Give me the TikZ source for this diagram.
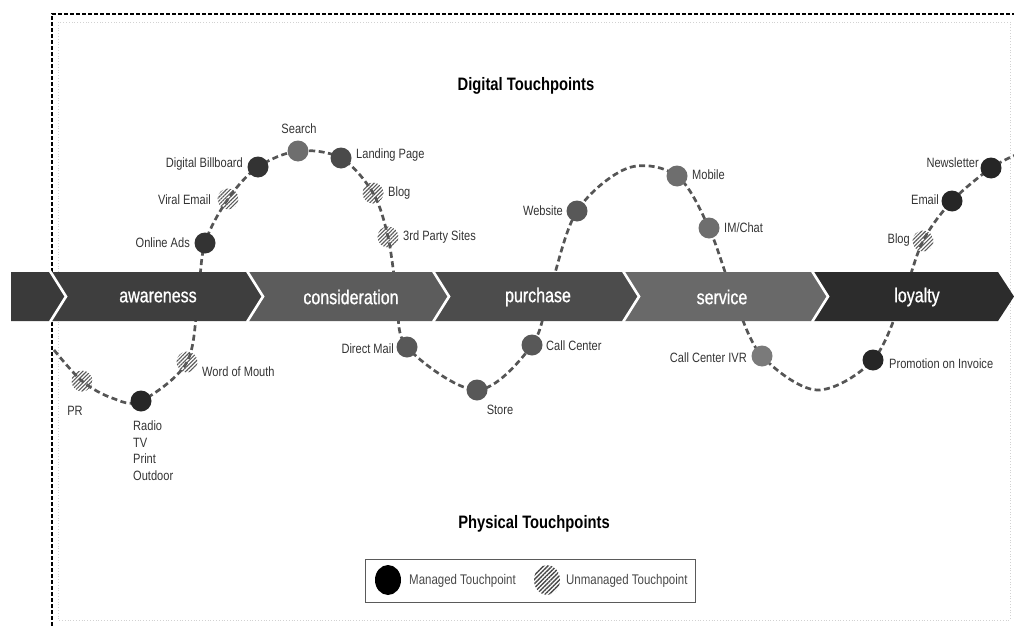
\documentclass[tikz,border=0pt]{standalone}
\usepackage{fontspec}
\setmainfont{Liberation Sans}[FakeStretch=0.82]
\newfontfamily\bandfont{Liberation Sans}[FakeStretch=0.8, FakeBold=0.9]
\usetikzlibrary{patterns.meta,shapes.geometric}
\pgfdeclarelayer{curvelayer}
\pgfdeclarelayer{bandlayer}
\pgfsetlayers{curvelayer,bandlayer,main}
\definecolor{segZ}{HTML}{3A3A3A}
\definecolor{segA}{HTML}{3E3E3E}
\definecolor{segB}{HTML}{5C5C5C}
\definecolor{segC}{HTML}{4C4C4C}
\definecolor{segD}{HTML}{696969}
\definecolor{segE}{HTML}{2C2C2C}
\definecolor{labc}{HTML}{333333}
\definecolor{curvec}{HTML}{555555}
\definecolor{hatch}{HTML}{5A5A5A}
\definecolor{mBlack}{HTML}{262626}
\definecolor{mDark}{HTML}{333333}
\definecolor{mMid}{HTML}{4A4A4A}
\definecolor{mGray}{HTML}{585858}
\definecolor{mLight}{HTML}{6E6E6E}
\definecolor{mLighter}{HTML}{7A7A7A}
\tikzset{
  tp/.style={circle, minimum size=21pt, inner sep=0pt},
  managed/.style={tp, fill=#1},
  unmanaged/.style={tp, pattern={Lines[angle=45,distance=2.7pt,line width=1.1pt]}, pattern color=hatch},
  lab/.style={font=\fontsize{13.5}{15}\selectfont, text=labc, inner sep=0pt},
  bandtext/.style={font=\bandfont\fontsize{20}{24}\selectfont, text=white, inner sep=0pt},
  title/.style={font=\bfseries\fontsize{18}{21}\selectfont, text=black, inner sep=0pt},
  curve/.style={draw=curvec, line width=2.7pt, dash pattern=on 6pt off 3.5pt},
  sep/.style={draw=white, line width=2.6pt},
}
\begin{document}
\begin{tikzpicture}[x=1pt,y=-1pt]
\useasboundingbox (0,0) rectangle (1014,626);

% titles
\node[title] (dig) at (526,86) {Digital Touchpoints};
\node[title] (phy) at (534,524) {Physical Touchpoints};

% touchpoints
\node[unmanaged] (PR) at (82,381) {};
\node[managed=mBlack] (Radio) at (141,401) {};
\node[unmanaged] (WoM) at (187,362) {};
\node[managed=mDark] (Ads) at (205,243) {};
\node[unmanaged] (Viral) at (228,199) {};
\node[managed=mDark] (Bill) at (258,167) {};
\node[managed=mLight] (Search) at (298,151) {};
\node[managed=mMid] (Landing) at (341,158) {};
\node[unmanaged] (BlogA) at (373,193) {};
\node[unmanaged] (Party) at (388,237) {};
\node[managed=mGray] (Mail) at (407,347) {};
\node[managed=mGray] (Store) at (477,390) {};
\node[managed=mGray] (Call) at (532,345) {};
\node[managed=mGray] (Web) at (577,211) {};
\node[managed=mLight] (Mobile) at (677,176) {};
\node[managed=mLight] (Chat) at (709,228) {};
\node[managed=mLighter] (IVR) at (762,356) {};
\node[managed=mBlack] (Promo) at (873,360) {};
\node[unmanaged] (BlogB) at (923,241) {};
\node[managed=mBlack] (Email) at (952,201) {};
\node[managed=mBlack] (News) at (991,168) {};

% labels
\node[lab] (lPR) at (75,411) {PR};
\node[lab, anchor=north west, align=left, font=\fontsize{13.5}{16.5}\selectfont] (lRadio) at (133,421) {Radio\\TV\\Print\\Outdoor};
\node[lab, anchor=west] (lWoM) at (202,372) {Word of Mouth};
\node[lab, anchor=east] (lAds) at (190,243) {Online Ads};
\node[lab, anchor=east] (lViral) at (211,200) {Viral Email};
\node[lab, anchor=east] (lBill) at (243,164) {Digital Billboard};
\node[lab] (lSearch) at (299,129) {Search};
\node[lab, anchor=west] (lLanding) at (356,155) {Landing Page};
\node[lab, anchor=west] (lBlogA) at (388,193) {Blog};
\node[lab, anchor=west] (lParty) at (403,237) {3rd Party Sites};
\node[lab, anchor=east] (lMail) at (394,349) {Direct Mail};
\node[lab] (lStore) at (500,410) {Store};
\node[lab, anchor=west] (lCall) at (546,346) {Call Center};
\node[lab, anchor=east] (lWeb) at (563,211) {Website};
\node[lab, anchor=west] (lMobile) at (692,175) {Mobile};
\node[lab, anchor=west] (lChat) at (724,228) {IM/Chat};
\node[lab, anchor=east] (lIVR) at (747,358) {Call Center IVR};
\node[lab, anchor=west] (lPromo) at (889,364) {Promotion on Invoice};
\node[lab, anchor=east] (lBlogB) at (910,240) {Blog};
\node[lab, anchor=east] (lEmail) at (939,200) {Email};
\node[lab, anchor=east] (lNews) at (979,163) {Newsletter};

% helper points of the wave
\coordinate (w0) at (54,350);
\coordinate (w1) at (112,398);
\coordinate (w2) at (198,296);
\coordinate (w3) at (397,296);
\coordinate (w4) at (550,290);
\coordinate (w5) at (628,168);
\coordinate (w6) at (735,300);
\coordinate (w7) at (817,390);
\coordinate (w8) at (903,296);
\coordinate (w9) at (1018,154);

\begin{pgfonlayer}{curvelayer}
% frame
\draw[gray!35, line width=0.8pt, dotted] (58,22) rectangle (1010,620);
\draw[black, line width=1.5pt, dash pattern=on 4pt off 2pt] (52,626) -- (52,14) -- (1014,14);
\draw[curve] plot[smooth, tension=0.55] coordinates {(w0) (PR.center) (w1) (Radio.center) (WoM.center) (w2) (Ads.center) (Viral.center) (Bill.center) (Search.center) (Landing.center) (BlogA.center) (Party.center) (w3) (Mail.center) (Store.center) (Call.center) (w4) (Web.center) (w5) (Mobile.center) (Chat.center) (w6) (IVR.center) (w7) (Promo.center) (w8) (BlogB.center) (Email.center) (News.center) (w9)};
\end{pgfonlayer}

% stage band
\begin{pgfonlayer}{bandlayer}
\fill[segZ] (11,272) -- (50,272) -- (66,296.5) -- (50,321) -- (11,321) -- cycle;
\fill[segA] (50,272) -- (247,272) -- (263,296.5) -- (247,321) -- (50,321) -- (66,296.5) -- cycle;
\fill[segB] (247,272) -- (433,272) -- (449,296.5) -- (433,321) -- (247,321) -- (263,296.5) -- cycle;
\fill[segC] (433,272) -- (623,272) -- (639,296.5) -- (623,321) -- (433,321) -- (449,296.5) -- cycle;
\fill[segD] (623,272) -- (812,272) -- (828,296.5) -- (812,321) -- (623,321) -- (639,296.5) -- cycle;
\fill[segE] (812,272) -- (998,272) -- (1014,296.5) -- (998,321) -- (812,321) -- (828,296.5) -- cycle;
\draw[sep] (50,271) -- (66,296.5) -- (50,322);
\draw[sep] (247,271) -- (263,296.5) -- (247,322);
\draw[sep] (433,271) -- (449,296.5) -- (433,322);
\draw[sep] (623,271) -- (639,296.5) -- (623,322);
\draw[sep] (812,271) -- (828,296.5) -- (812,322);
\node[bandtext] (sAw) at (158,297) {awareness};
\node[bandtext] (sCo) at (351,297) {consideration};
\node[bandtext] (sPu) at (538,297) {purchase};
\node[bandtext] (sSe) at (722,297) {service};
\node[bandtext] (sLo) at (917,297) {loyalty};
\end{pgfonlayer}

% legend
\node[draw=hatch, line width=0.9pt, minimum width=330pt, minimum height=43pt, inner sep=0pt] (legend) at (530,580.5) {};
\node[ellipse, fill=black, minimum width=26pt, minimum height=30pt, inner sep=0pt] (lgM) at (388,580) {};
\node[lab, anchor=west, font=\fontsize{14}{16}\selectfont, text=hatch!80!black] (lgMt) at (409,581) {Managed Touchpoint};
\node[ellipse, minimum width=26pt, minimum height=30pt, inner sep=0pt, pattern={Lines[angle=45,distance=3pt,line width=1.3pt]}, pattern color=hatch!80!black] (lgU) at (547,580) {};
\node[lab, anchor=west, font=\fontsize{14}{16}\selectfont, text=hatch!80!black] (lgUt) at (566,581) {Unmanaged Touchpoint};
\end{tikzpicture}
\end{document}
